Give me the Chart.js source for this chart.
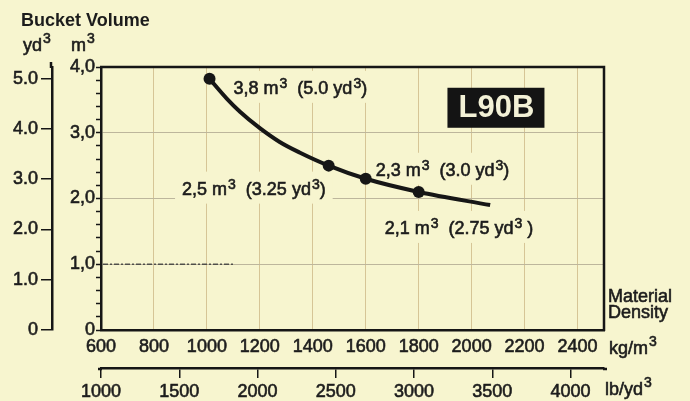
<!DOCTYPE html>
<html>
<head>
<meta charset="utf-8">
<script src="https://cdn.jsdelivr.net/npm/chart.js@4.4.0/dist/chart.umd.min.js"></script>
<style>
html,body{margin:0;padding:0;background:#f7f5cf;}
#wrap{width:690px;height:401px;position:relative;}
canvas{display:block;}
</style>
</head>
<body>
<div id="wrap"><canvas id="c" width="690" height="401"></canvas></div>
<script>
// ---- data ----
const densityKg = [1010, 1075, 1125, 1200, 1275, 1350, 1460, 1600, 1800, 2070];
const volumeM3  = [3.82, 3.52, 3.32, 3.07, 2.86, 2.70, 2.5, 2.3, 2.1, 1.9];
const isMarker  = [true, false, false, false, false, false, true, true, true, false];
const markerLabels = ['3,8 m³  (5.0 yd³)', '', '', '', '', '', '2,5 m³  (3.25 yd³)', '2,3 m³  (3.0 yd³)', '2,1 m³  (2.75 yd³ )', ''];
const kgRange = [600, 2500];
const kgTickValues = [600, 800, 1000, 1200, 1400, 1600, 1800, 2000, 2200, 2400];
const lbRange = [1000, 4214];
const lbTickValues = [1000, 1500, 2000, 2500, 3000, 3500, 4000];
const m3Range = [0, 4];
const m3MinorStep = 0.2;
const M3_PER_YD3 = 0.764555;
const yd3TickValues = [0, 1, 2, 3, 4, 5];
const modelName = 'L90B';
const modelPos = [2090, 3.38];

// ---- style ----
const BG = '#f7f5cf';
const TEXT = '#1c1c1c';
const LINE = '#161616';
const FONT = '"Liberation Sans", Arial, Helvetica, sans-serif';
const labelPlacement = {
  0: {dx: 24, dy: 8, align: 'left'},
  6: {dx: -3, dy: 22, align: 'right'},
  7: {dx: 10, dy: -10, align: 'left'},
  8: {dx: -34, dy: 35, align: 'left'}
};
const isInt = v => Math.abs(v - Math.round(v)) < 1e-6;
const tickFont = {family: FONT, size: 18};

// rich text: '³' drawn as a raised, smaller '3'
function richParts(str) {
  const parts = [];
  let buf = '';
  for (const ch of str) {
    if (ch === '³') { if (buf) parts.push({t: buf, sup: false}); buf = ''; parts.push({t: '3', sup: true}); }
    else buf += ch;
  }
  if (buf) parts.push({t: buf, sup: false});
  return parts;
}
function richWidth(ctx, str, size, weight) {
  let w = 0;
  for (const p of richParts(str)) {
    ctx.font = (weight || '') + ' ' + (p.sup ? Math.round(size * 0.78) : size) + 'px ' + FONT;
    w += ctx.measureText(p.t).width + (p.sup ? 1 : 0);
  }
  return w;
}
function drawRich(ctx, str, x, baseY, size, opts) {
  opts = opts || {};
  const raise = opts.raise != null ? opts.raise : size * 0.36;
  let cx = x;
  if (opts.align === 'right') cx = x - richWidth(ctx, str, size, opts.weight);
  ctx.textBaseline = 'alphabetic';
  ctx.textAlign = 'left';
  for (const p of richParts(str)) {
    const fs = p.sup ? Math.round(size * 0.78) : size;
    ctx.font = (opts.weight || '') + ' ' + fs + 'px ' + FONT;
    const y = p.sup ? baseY - raise : baseY;
    const xx = p.sup ? cx + 1 : cx;
    ctx.fillText(p.t, xx, y);
    if (opts.stroke) ctx.strokeText(p.t, xx, y);
    cx += ctx.measureText(p.t).width + (p.sup ? 1 : 0);
  }
  return cx;
}

const decor = {
  id: 'decor',
  beforeDatasetsDraw(chart) {
    const {ctx, chartArea: a, scales} = chart;
    ctx.save();
    // dark dashed scan segment on the 1,0 line
    ctx.strokeStyle = 'rgba(60,60,60,0.85)';
    ctx.lineWidth = 1.6;
    ctx.setLineDash([5, 2, 2, 2]);
    const y1 = scales.y.getPixelForValue(1);
    ctx.beginPath();
    ctx.moveTo(a.left + 2, y1);
    ctx.lineTo(scales.x.getPixelForValue(1100), y1);
    ctx.stroke();
    ctx.setLineDash([]);

    markerLabels.forEach((txt, i) => {
      if (!txt) return;
      const p = labelPlacement[i];
      const px = scales.x.getPixelForValue(densityKg[i]) + p.dx;
      const py = scales.y.getPixelForValue(volumeM3[i]) + p.dy;
      const w = richWidth(ctx, txt, 18);
      const left = p.align === 'right' ? px - w : px;
      const top = Math.max(a.top + 2, py - 16);
      ctx.fillStyle = BG;
      ctx.fillRect(left - 7, top, w + 14, py + 16 - top);
      ctx.fillStyle = TEXT;
      ctx.strokeStyle = TEXT;
      ctx.lineWidth = 0.6;
      drawRich(ctx, txt, left, py + 7, 18, {stroke: true, raise: 6});
    });

    // model badge
    const cx = scales.x.getPixelForValue(modelPos[0]);
    const cy = scales.y.getPixelForValue(modelPos[1]);
    ctx.fillStyle = '#141414';
    ctx.fillRect(cx - 48, cy - 20, 97, 40);
    ctx.fillStyle = '#f3f1d6';
    ctx.font = 'bold 31px ' + FONT;
    ctx.textAlign = 'center';
    ctx.textBaseline = 'middle';
    ctx.fillText(modelName, cx + 1, cy + 1);
    ctx.restore();
  },
  afterDatasetsDraw(chart) {
    const {ctx, chartArea: a} = chart;
    ctx.save();
    ctx.strokeStyle = LINE;
    ctx.lineWidth = 2.5;
    ctx.beginPath();
    ctx.moveTo(a.left - 1, a.top);
    ctx.lineTo(a.right, a.top);
    ctx.lineTo(a.right, a.bottom + 1);
    ctx.stroke();
    ctx.restore();
  },
  afterDraw(chart) {
    const {ctx, chartArea: a, scales} = chart;
    ctx.save();
    // small axis-line overhangs as in the print
    ctx.strokeStyle = LINE;
    ctx.lineWidth = 2.5;
    ctx.beginPath();
    ctx.moveTo(scales.yYd.right - 1, a.top + 1);
    ctx.lineTo(scales.yYd.right - 1, a.top - 5);
    ctx.moveTo(a.left - 3, scales.xLb.top + 1);
    ctx.lineTo(a.left + 1, scales.xLb.top + 1);
    ctx.moveTo(a.right - 1, scales.xLb.top + 1);
    ctx.lineTo(a.right + 3, scales.xLb.top + 1);
    ctx.stroke();

    ctx.fillStyle = TEXT;
    ctx.strokeStyle = TEXT;
    ctx.lineWidth = 0.6;
    ctx.font = 'bold 18px ' + FONT;
    ctx.textBaseline = 'alphabetic';
    ctx.textAlign = 'left';
    ctx.fillText('Bucket Volume', 21, 26);
    drawRich(ctx, 'yd³', 23, 51, 18, {stroke: true, raise: 8});
    drawRich(ctx, 'm³', 71, 51, 18, {stroke: true, raise: 8});
    drawRich(ctx, 'Material', a.right + 4, 302, 18, {stroke: true});
    drawRich(ctx, 'Density', a.right + 4, 318, 18, {stroke: true});
    drawRich(ctx, 'kg/m³', a.right + 5, scales.x.top + 24, 18, {stroke: true, raise: 8});
    drawRich(ctx, 'lb/yd³', a.right + 1, scales.xLb.top + 27, 18, {stroke: true, raise: 8});
    ctx.restore();
  }
};

const tickCommon = {font: tickFont, color: TEXT, textStrokeColor: TEXT, textStrokeWidth: 0.6,
  autoSkip: false, maxRotation: 0, includeBounds: false};

new Chart(document.getElementById('c'), {
  type: 'line',
  data: {
    datasets: [{
      data: densityKg.map((d, i) => ({x: d, y: volumeM3[i]})),
      xAxisID: 'x',
      yAxisID: 'y',
      borderColor: LINE,
      borderWidth: 4,
      cubicInterpolationMode: 'monotone',
      pointRadius: ctx => isMarker[ctx.dataIndex] ? 6 : 0,
      pointBackgroundColor: LINE,
      pointBorderWidth: 0,
      fill: false
    }]
  },
  options: {
    responsive: false,
    animation: false,
    layout: {padding: {top: 67, right: 86, left: 0, bottom: 0}},
    plugins: {legend: {display: false}, tooltip: {enabled: false}},
    scales: {
      x: {
        type: 'linear', position: 'bottom', weight: 0,
        min: kgRange[0], max: kgRange[1],
        afterFit: s => { s.height = 38; },
        afterBuildTicks: s => { s.ticks = kgTickValues.map(v => ({value: v})); },
        ticks: Object.assign({}, tickCommon, {padding: 6, callback: v => String(v)}),
        grid: {color: '#d6c596', lineWidth: 1, drawTicks: false},
        border: {display: true, color: LINE, width: 2.5}
      },
      xLb: {
        type: 'linear', position: 'bottom', weight: 1,
        min: lbRange[0], max: lbRange[1],
        afterFit: s => { s.height = 33; },
        afterBuildTicks: s => { s.ticks = lbTickValues.map(v => ({value: v})); },
        ticks: Object.assign({}, tickCommon, {padding: 3, callback: v => String(v)}),
        grid: {drawOnChartArea: false, drawTicks: true, tickLength: 10, color: LINE, lineWidth: 1.5},
        border: {display: true, color: LINE, width: 2.5}
      },
      y: {
        type: 'linear', position: 'left', weight: 0,
        min: m3Range[0], max: m3Range[1],
        afterFit: s => { s.width = 49; },
        ticks: Object.assign({}, tickCommon, {stepSize: m3MinorStep, padding: 1,
          callback: v => isInt(v) ? (Math.round(v) === 0 ? '0' : v.toFixed(1).replace('.', ',')) : ''}),
        grid: {color: ctx => (ctx.tick && isInt(ctx.tick.value)) ? '#bdb69c' : 'rgba(0,0,0,0)',
          tickColor: LINE, tickLength: 5, lineWidth: 1, tickWidth: 1.5},
        border: {display: true, color: LINE, width: 2.5}
      },
      yYd: {
        type: 'linear', position: 'left', weight: 1,
        min: 0, max: m3Range[1] / M3_PER_YD3,
        afterFit: s => { s.width = 52; },
        afterBuildTicks: s => { s.ticks = yd3TickValues.map(v => ({value: v})); },
        ticks: Object.assign({}, tickCommon, {padding: 3,
          callback: v => Math.round(v) === 0 ? '0' : v.toFixed(1)}),
        grid: {drawOnChartArea: false, tickLength: 11, color: LINE, lineWidth: 1.5},
        border: {display: true, color: LINE, width: 2.5}
      }
    }
  },
  plugins: [decor]
});
</script>
</body>
</html>
